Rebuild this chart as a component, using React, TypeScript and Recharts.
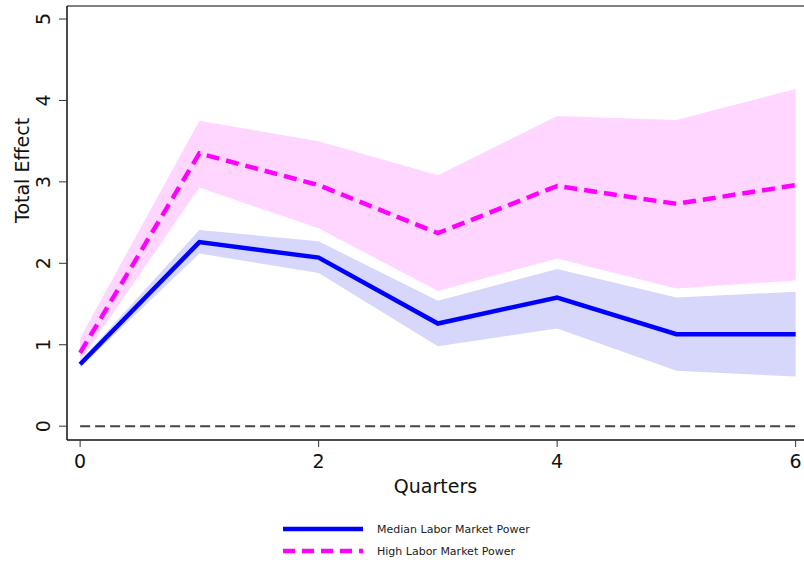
import React from 'react';
import {
  ComposedChart,
  Area,
  Line,
  XAxis,
  YAxis,
  ReferenceLine,
} from 'recharts';

// Quarters after the shock
const quarters = [0, 1, 2, 3, 4, 5, 6];

// Median labor market power: point estimate and confidence band
const medianEffect = [0.76, 2.26, 2.07, 1.26, 1.58, 1.13, 1.13];
const medianLow = [0.72, 2.12, 1.88, 0.98, 1.2, 0.68, 0.61];
const medianHigh = [0.8, 2.41, 2.27, 1.54, 1.93, 1.58, 1.65];

// High labor market power: point estimate and confidence band
const highEffect = [0.9, 3.35, 2.96, 2.37, 2.95, 2.73, 2.96];
const highLow = [0.8, 2.93, 2.43, 1.66, 2.06, 1.69, 1.79];
const highHigh = [1.08, 3.75, 3.5, 3.08, 3.81, 3.76, 4.14];

const xTicks = [0, 2, 4, 6];
const yTicks = [0, 1, 2, 3, 4, 5];

const X_DOMAIN: [number, number] = [-0.11, 6.07];
const Y_DOMAIN: [number, number] = [-0.17, 5.16];

const FONT = '"DejaVu Sans", sans-serif';
const BLUE = '#0000ff';
const MAGENTA = '#ff00ff';
const BLUE_BAND = '#d7d7fb';
const MAGENTA_BAND = '#ffd6ff';

const data = quarters.map((q, i) => ({
  q,
  median: medianEffect[i],
  medianBand: [medianLow[i], medianHigh[i]],
  high: highEffect[i],
  highBand: [highLow[i], highHigh[i]],
}));

function YTick({ x, y, payload }: any) {
  return (
    <text
      x={x}
      y={y}
      transform={`rotate(-90, ${x}, ${y})`}
      textAnchor="middle"
      fontSize={19}
      fontFamily={FONT}
      fill="#111"
    >
      {payload.value}
    </text>
  );
}

function XTick({ x, y, payload }: any) {
  return (
    <text x={x} y={y} dy="0.71em" textAnchor="middle" fontSize={19} fontFamily={FONT} fill="#111">
      {payload.value}
    </text>
  );
}

function LegendBox() {
  const items = [
    { label: 'Median Labor Market Power', color: BLUE, dash: undefined },
    { label: 'High Labor Market Power', color: MAGENTA, dash: '12 7' },
  ];
  return (
    <div
      style={{
        position: 'absolute',
        left: 283,
        top: 518,
        fontFamily: FONT,
        fontSize: 11,
        color: '#222',
      }}
    >
      {items.map((it) => (
        <div key={it.label} style={{ display: 'flex', alignItems: 'center', height: 22 }}>
          <svg width={94} height={10}>
            <line x1={0} y1={5} x2={80} y2={5} stroke={it.color} strokeWidth={4.5} strokeDasharray={it.dash} />
          </svg>
          <span>{it.label}</span>
        </div>
      ))}
    </div>
  );
}

export default function App() {
  return (
    <div style={{ position: 'absolute', left: 0, top: 0, width: 804, height: 565, background: '#fff' }}>
      <ComposedChart width={804} height={565} data={data} margin={{ top: 6, right: 0, bottom: 0, left: 0 }}>
        <XAxis
          dataKey="q"
          type="number"
          domain={X_DOMAIN}
          ticks={xTicks}
          allowDataOverflow
          height={125}
          tickSize={7}
          tickMargin={8}
          tick={<XTick />}
          axisLine={{ stroke: '#111', strokeWidth: 1.5 }}
          tickLine={{ stroke: '#333', strokeWidth: 1 }}
          label={{ value: 'Quarters', position: 'insideTop', offset: 40, fontSize: 19, fontFamily: FONT, fill: '#111' }}
        />
        <YAxis
          type="number"
          domain={Y_DOMAIN}
          ticks={yTicks}
          allowDataOverflow
          width={67}
          tickSize={8}
          tickMargin={9}
          tick={<YTick />}
          axisLine={{ stroke: '#111', strokeWidth: 1.5 }}
          tickLine={{ stroke: '#333', strokeWidth: 1 }}
          label={{
            value: 'Total Effect',
            angle: -90,
            position: 'insideLeft',
            offset: 22,
            fontSize: 19,
            fontFamily: FONT,
            fill: '#111',
          }}
        />
        <ReferenceLine y={Y_DOMAIN[1]} stroke="#555" strokeWidth={1.5} />
        <Area
          dataKey="highBand"
          type="linear"
          stroke="none"
          fill={MAGENTA_BAND}
          fillOpacity={1}
          isAnimationActive={false}
        />
        <Area
          dataKey="medianBand"
          type="linear"
          stroke="none"
          fill={BLUE_BAND}
          fillOpacity={1}
          isAnimationActive={false}
        />
        <ReferenceLine
          segment={[
            { x: quarters[0], y: 0 },
            { x: quarters[quarters.length - 1], y: 0 },
          ]}
          stroke="#444"
          strokeWidth={2}
          strokeDasharray="10 5"
        />
        <Line
          dataKey="median"
          type="linear"
          stroke={BLUE}
          strokeWidth={4.5}
          dot={false}
          isAnimationActive={false}
        />
        <Line
          dataKey="high"
          type="linear"
          stroke={MAGENTA}
          strokeWidth={4.5}
          strokeDasharray="13 7"
          dot={false}
          isAnimationActive={false}
        />
      </ComposedChart>
      <LegendBox />
    </div>
  );
}
